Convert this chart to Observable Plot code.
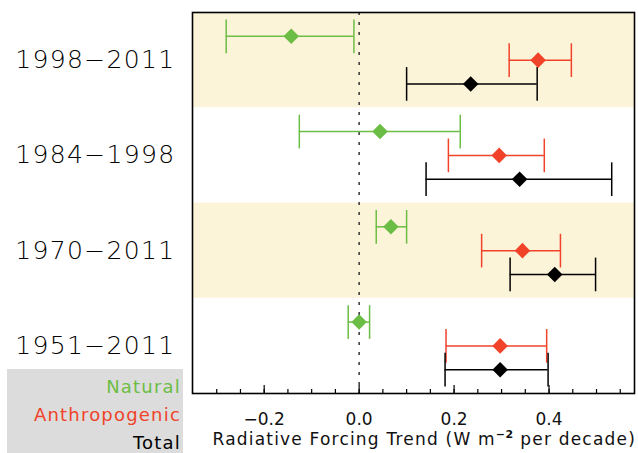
<!DOCTYPE html>
<html><head><meta charset="utf-8">
<script src="https://cdn.jsdelivr.net/npm/d3@7"></script>
<script src="https://cdn.jsdelivr.net/npm/@observablehq/plot@0.6"></script>
<style>body{margin:0;background:#fff}</style>
</head><body><div id="chart"></div>
<script>
const periods = ["1998−2011", "1984−1998", "1970−2011", "1951−2011"];
const shaded = [true, false, true, false];
const seriesNames = ["Natural", "Anthropogenic", "Total"];
const seriesColors = ["#6cbd45", "#f0432a", "#000000"];
const naturalMid  = [-0.143, 0.044, 0.067, 0.000];
const naturalLow  = [-0.280, -0.126, 0.036, -0.023];
const naturalHigh = [-0.011, 0.213, 0.100, 0.022];
const anthroMid   = [0.377, 0.295, 0.344, 0.297];
const anthroLow   = [0.316, 0.188, 0.258, 0.183];
const anthroHigh  = [0.447, 0.390, 0.424, 0.395];
const totalMid    = [0.235, 0.338, 0.412, 0.297];
const totalLow    = [0.100, 0.141, 0.318, 0.181];
const totalHigh   = [0.375, 0.532, 0.498, 0.398];
const xTicks = [-0.2, 0.0, 0.2, 0.4];
const xDomain = [-0.351, 0.58];

const mids = [naturalMid, anthroMid, totalMid];
const lows = [naturalLow, anthroLow, totalLow];
const highs = [naturalHigh, anthroHigh, totalHigh];
const rows = [];
seriesNames.forEach((s, si) => periods.forEach((p, pi) => rows.push({
  series: s, color: seriesColors[si], period: p,
  pos: pi + (si + 1) / 4, mid: mids[si][pi], low: lows[si][pi], high: highs[si][pi]
})));
const bands = periods.map((p, i) => ({period: p, i, shaded: shaded[i]})).filter(d => d.shaded);
const labels = periods.map((p, i) => ({period: p, pos: i + 0.5}));
const minor = d3.range(-0.30, 0.56, 0.05);

const W = 638, H = 453, mt = 12, mb = 60, ml = 192, mr = 4;
const plotH = H - mt - mb;
const capSymbol = {draw(ctx, size) { const h = Math.sqrt(size); ctx.moveTo(0, -h); ctx.lineTo(0, h); }};

const svg = Plot.plot({
  width: W, height: H, marginTop: mt, marginBottom: mb, marginLeft: ml, marginRight: mr,
  style: {fontFamily: "DejaVu Sans", background: "white"},
  x: {domain: xDomain},
  y: {domain: [0, 4], reverse: true, axis: null},
  marks: [
    Plot.rect(bands, {x1: xDomain[0], x2: xDomain[1], y1: d => d.i, y2: d => d.i + 1, fill: "#fcf4d9"}),
    Plot.ruleX([0], {stroke: "#333", strokeWidth: 1.5, strokeDasharray: "3,7"}),
    Plot.ruleY(rows, {y: "pos", x1: "low", x2: "high", stroke: "color", strokeWidth: 1.5}),
    Plot.dot(rows, {x: "low", y: "pos", symbol: capSymbol, r: 9.5, stroke: "color", strokeWidth: 1.5, fill: "none"}),
    Plot.dot(rows, {x: "high", y: "pos", symbol: capSymbol, r: 9.5, stroke: "color", strokeWidth: 1.5, fill: "none"}),
    Plot.dot(rows, {x: "mid", y: "pos", symbol: "diamond2", r: 7, fill: "color", stroke: "none"}),
    Plot.ruleX(minor, {insetTop: plotH - 4, stroke: "black", strokeWidth: 1.2}),
    Plot.ruleX(xTicks, {insetTop: plotH - 8, stroke: "black", strokeWidth: 1.2}),
    Plot.frame({stroke: "black", strokeWidth: 1.6}),
    Plot.axisX({ticks: xTicks, tickFormat: d3.format(".1f"), tickSize: 0, tickPadding: 19, fontSize: 17, label: null, fill: "#111"}),
    Plot.text(labels, {y: "pos", text: "period", frameAnchor: "left", dx: -17, textAnchor: "end", fontSize: 25, fill: "#000", fontWeight: 200})
  ]
});

const s = d3.select(svg);
s.selectAll("text").filter(function() { return periods.includes(this.textContent); })
  .style("letter-spacing", "1.35px");
const leg = s.append("g").attr("font-family", "DejaVu Sans").attr("font-size", 18)
  .attr("text-anchor", "end").style("letter-spacing", "1.2px");
leg.append("rect").attr("x", 7).attr("y", 369).attr("width", 176).attr("height", 84).attr("fill", "#dcdcdc");
seriesNames.forEach((n, i) => {
  leg.append("text").attr("x", 181).attr("y", 393 + i * 28).attr("fill", seriesColors[i]).text(n);
});
const xl = s.append("text").attr("x", 636).attr("y", 445).attr("text-anchor", "end")
  .attr("font-family", "DejaVu Sans").attr("font-size", 17)
  .style("letter-spacing", "1.2px").attr("fill", "#111");
xl.append("tspan").text("Radiative Forcing Trend (W m");
xl.append("tspan").attr("dy", -7).attr("font-size", 11).attr("font-weight", "bold").style("letter-spacing", "0.5px").text("−2");
xl.append("tspan").attr("dy", 7).text(" per decade)");
document.getElementById("chart").appendChild(svg);
</script></body></html>
